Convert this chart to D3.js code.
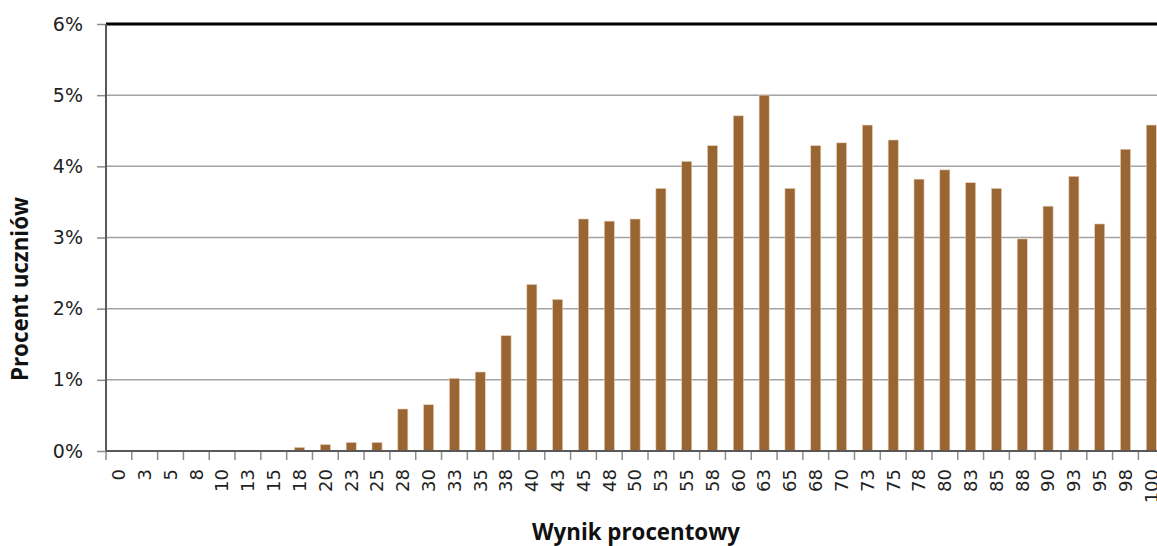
<!DOCTYPE html>
<html>
<head>
<meta charset="utf-8">
<script src="https://cdn.jsdelivr.net/npm/d3@7"></script>
<style>
  body { margin: 0; background: #fff; overflow: hidden; }
  svg { display: block; }
</style>
</head>
<body>
<svg width="1157" height="546"></svg>
<script>
// wynik procentowy (x categories)
var scores = ["0","3","5","8","10","13","15","18","20","23","25","28","30","33","35","38","40",
    "43","45","48","50","53","55","58","60","63","65","68","70","73","75","78","80","83",
    "85","88","90","93","95","98","100"];

// procent uczniow, in %
var percents = [0, 0, 0, 0, 0, 0, 0, 0.05, 0.09, 0.12, 0.12, 0.59, 0.65, 1.02, 1.11, 1.62, 2.34,
    2.13, 3.26, 3.23, 3.26, 3.69, 4.07, 4.29, 4.71, 5.0, 3.69, 4.29, 4.33, 4.58, 4.37, 3.82,
    3.95, 3.77, 3.69, 2.98, 3.44, 3.86, 3.19, 4.24, 4.58];

var yTicks = [0, 1, 2, 3, 4, 5, 6];

var svg = d3.select("svg");

// note: "top" is taken by window.top
var plotLeft = 106, plotTop = 24, plotBottom = 451;
var step = 25.81;
var plotRight = plotLeft + step * scores.length;

var x = d3.scaleBand()
    .domain(scores)
    .range([plotLeft, plotRight])
    .paddingInner(0.61)
    .paddingOuter(0.305);

var y = d3.scaleLinear()
    .domain([0, 6])
    .range([plotBottom, plotTop]);

// gridlines
svg.append("g")
    .selectAll("line")
    .data(yTicks.filter(function(d) { return d > 0 && d < 6; }))
    .enter().append("line")
    .attr("x1", plotLeft)
    .attr("x2", 1157)
    .attr("y1", function(d) { return y(d); })
    .attr("y2", function(d) { return y(d); })
    .attr("stroke", "#a3a3a3")
    .attr("stroke-width", 1.5);

// top border line
svg.append("line")
    .attr("x1", plotLeft).attr("x2", 1157)
    .attr("y1", y(6)).attr("y2", y(6))
    .attr("stroke", "#000")
    .attr("stroke-width", 3);

// bars
svg.append("g")
    .selectAll("rect")
    .data(percents)
    .enter().append("rect")
    .attr("x", function(d, i) { return x(scores[i]); })
    .attr("width", x.bandwidth())
    .attr("y", function(d) { return y(d); })
    .attr("height", function(d) { return y(0) - y(d); })
    .attr("fill", "#996633")
    .attr("stroke", "#e6cfb8")
    .attr("stroke-width", 0.6);

// y axis
var yAxis = svg.append("g")
    .attr("transform", "translate(" + plotLeft + ",0)")
    .call(d3.axisLeft(y)
        .tickValues(yTicks)
        .tickSize(9)
        .tickPadding(14)
        .tickFormat(function(d) { return d + "%"; }));
yAxis.select(".domain").remove();
yAxis.selectAll(".tick line").attr("stroke", "#8c8c8c").attr("stroke-width", 1.5);
yAxis.selectAll(".tick text")
    .attr("font-family", "DejaVu Sans")
    .attr("font-size", "19px")
    .attr("fill", "#222");

svg.append("line")
    .attr("x1", plotLeft).attr("x2", plotLeft)
    .attr("y1", plotTop).attr("y2", plotBottom)
    .attr("stroke", "#595959")
    .attr("stroke-width", 2);

// x axis
var xAxis = svg.append("g")
    .attr("transform", "translate(0," + plotBottom + ")")
    .call(d3.axisBottom(x).tickSize(0).tickPadding(0));
xAxis.select(".domain").remove();
xAxis.selectAll(".tick text")
    .attr("transform", "translate(0,18) rotate(-90)")
    .attr("text-anchor", "end")
    .attr("dy", "0.35em")
    .attr("y", 0)
    .attr("font-family", "DejaVu Sans")
    .attr("font-size", "18px")
    .attr("fill", "#222");

// tick marks between categories
svg.append("g")
    .selectAll("line")
    .data(d3.range(scores.length + 1))
    .enter().append("line")
    .attr("x1", function(i) { return plotLeft + i * x.step(); })
    .attr("x2", function(i) { return plotLeft + i * x.step(); })
    .attr("y1", plotBottom)
    .attr("y2", plotBottom + 9)
    .attr("stroke", "#8c8c8c")
    .attr("stroke-width", 1.5);

svg.append("line")
    .attr("x1", plotLeft).attr("x2", 1157)
    .attr("y1", plotBottom).attr("y2", plotBottom)
    .attr("stroke", "#595959")
    .attr("stroke-width", 2);

// axis titles
svg.append("text")
    .attr("transform", "translate(28,289) rotate(-90)")
    .attr("text-anchor", "middle")
    .attr("font-family", "Open Sans")
    .attr("font-weight", "bold")
    .attr("font-size", "22.3px")
    .attr("fill", "#111")
    .text("Procent uczniów");

svg.append("text")
    .attr("x", 636)
    .attr("y", 540)
    .attr("text-anchor", "middle")
    .attr("font-family", "Open Sans")
    .attr("font-weight", "bold")
    .attr("font-size", "22.3px")
    .attr("fill", "#111")
    .text("Wynik procentowy");
</script>
</body>
</html>
